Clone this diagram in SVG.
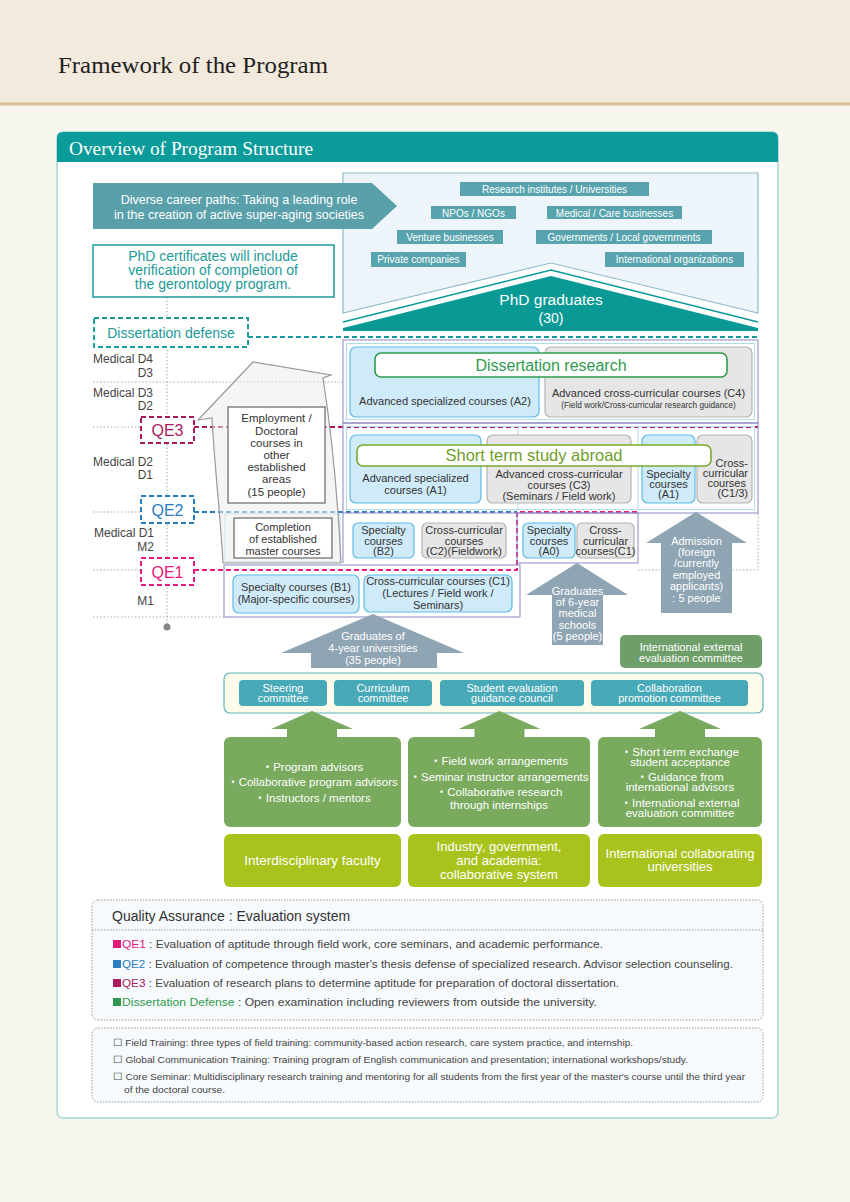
<svg xmlns="http://www.w3.org/2000/svg" width="850" height="1202" viewBox="0 0 850 1202">
<defs>
<style>
.s{font-family:"Liberation Sans",Arial,sans-serif}
.serif{font-family:"Liberation Serif","Times New Roman",serif}
.c{text-anchor:middle}
.dk{fill:#333;font-size:11px}
.wt{fill:#fff}
.blue{fill:#cfeaf8;stroke:#5dbbe5;stroke-width:1.2}
.gray{fill:#e6e6e6;stroke:#b3b3b3;stroke-width:1.2}
.purp{fill:none;stroke:#8b87c6;stroke-width:1}
.ltb{fill:none;stroke:#b4dcef;stroke-width:1}
.dot{fill:none;stroke:#aaa;stroke-width:1;stroke-dasharray:1.5 2}
.garrow{fill:#8fa5b3}
.grn{fill:#79aa5d}
.lime{fill:#a9c31c}
.cmt{fill:#48a9b8}
.tag{fill:#58a4ae}
.qa{fill:#444;font-size:11px}
.note{fill:#444;font-size:9.5px}
</style>
</defs>
<!-- background -->
<rect x="0" y="0" width="850" height="1202" fill="#f6f5ee"/>
<rect x="0" y="0" width="850" height="104" fill="#f2eadc"/>
<rect x="0" y="102.5" width="850" height="3" fill="#d8bf98"/>
<text x="58" y="73" class="serif" font-size="23" fill="#222" textLength="270" lengthAdjust="spacingAndGlyphs">Framework of the Program</text>

<!-- panel -->
<rect x="57" y="132" width="721" height="986" rx="6" fill="#fff" stroke="#a5d8d3" stroke-width="1.5"/>
<path d="M57,162 V138 Q57,132 63,132 H772 Q778,132 778,138 V162 Z" fill="#0b9b9a"/>
<text x="69" y="155" class="serif wt" font-size="18" textLength="244" lengthAdjust="spacingAndGlyphs">Overview of Program Structure</text>

<!-- career area -->
<g id="career-box">
<path d="M343,173 H758 V313 L551,263 L343,313 Z" fill="#eef5fa" stroke="#8dbccb" stroke-width="1.2"/>
<rect class="tag" x="460" y="182" width="189" height="14"/>
<text x="554.5" y="193" class="s c wt" font-size="10">Research institutes / Universities</text>
<rect class="tag" x="431" y="206" width="85" height="13"/>
<text x="473.5" y="216.5" class="s c wt" font-size="10">NPOs / NGOs</text>
<rect class="tag" x="547" y="206" width="135" height="13"/>
<text x="614.5" y="216.5" class="s c wt" font-size="10">Medical / Care businesses</text>
<rect class="tag" x="397" y="230" width="106" height="14"/>
<text x="450" y="240.5" class="s c wt" font-size="10">Venture businesses</text>
<rect class="tag" x="536" y="230" width="176" height="14"/>
<text x="624" y="240.5" class="s c wt" font-size="10">Governments / Local governments</text>
<rect class="tag" x="371" y="252" width="95" height="15"/>
<text x="418.5" y="263" class="s c wt" font-size="10">Private companies</text>
<rect class="tag" x="605" y="252" width="139" height="15"/>
<text x="674.5" y="263" class="s c wt" font-size="10">International organizations</text>
</g>
<g id="phd-graduates">
<polyline points="343,322 551,270 758,322" fill="none" stroke="#0a9a96" stroke-width="1.5"/>
<polygon points="343,331 343,328 551,276 758,328 758,331" fill="#0a9a96"/>
<text x="551" y="305" class="s c wt" font-size="15.5">PhD graduates</text>
<text x="551" y="323" class="s c wt" font-size="14">(30)</text>
</g>
<g id="career-arrow">
<polygon points="93,183 372,183 397,206 372,229 93,229" fill="#5aa0aa"/>
<text x="239" y="204" class="s c wt" font-size="12.5">Diverse career paths: Taking a leading role</text>
<text x="239" y="219" class="s c wt" font-size="12.5">in the creation of active super-aging societies</text>
</g>

<!-- connectors / guide lines -->
<g id="connectors">
<line x1="167" y1="297" x2="167" y2="627" class="dot"/>
<line x1="93" y1="382" x2="343" y2="382" class="dot"/>
<line x1="93" y1="427" x2="141" y2="427" class="dot"/>
<line x1="93" y1="512" x2="141" y2="512" class="dot"/>
<line x1="93" y1="570" x2="141" y2="570" class="dot"/>
<line x1="93" y1="617" x2="224" y2="617" class="dot"/>
<circle cx="167" cy="627" r="3.5" fill="#888"/>
<path d="M248,337 H758" fill="none" stroke="#1a9a98" stroke-width="2" stroke-dasharray="5 3"/>
<path d="M194,427 H758" fill="none" stroke="#a8195e" stroke-width="2" stroke-dasharray="5 3"/>
<path d="M194,512 H517" fill="none" stroke="#2a7dc1" stroke-width="2" stroke-dasharray="5 3"/>
<path d="M194,570 H517 V512 H638" fill="none" stroke="#e5197e" stroke-width="2" stroke-dasharray="5 3"/>
<path d="M638,570 H758 V513" class="dot"/>
</g>

<!-- frames -->
<g id="frames">
<rect x="343" y="340" width="415" height="83" class="purp"/>
<rect x="346.5" y="343.5" width="408" height="76" class="ltb"/>
<rect x="343" y="423" width="415" height="90" class="purp"/>
<rect x="346.5" y="426.5" width="408" height="83" class="ltb"/>
<line x1="518" y1="426" x2="518" y2="510" class="ltb"/>
<line x1="638" y1="426" x2="638" y2="510" class="ltb"/>
<rect x="517" y="513" width="121" height="50" class="purp"/>
<line x1="343" y1="513" x2="343" y2="563" stroke="#8b87c6"/>
<rect x="224" y="565" width="296" height="52" class="purp"/>
<rect x="225" y="514" width="115" height="48" class="ltb"/>
</g>

<!-- curved arrow -->
<g id="transfer-arrow">
<path d="M223,563 C220,510 214,460 212,418 L198,420 L253,362 L331,375 L323,378 C331,430 338,500 341,563 Z" fill="#ececec" fill-opacity="0.55" stroke="#999" stroke-width="1.2"/>
</g>

<!-- left labels -->
<g id="year-labels" class="s" font-size="12" fill="#444" text-anchor="end">
<text x="153" y="363">Medical D4</text>
<text x="153" y="377">D3</text>
<text x="153" y="397">Medical D3</text>
<text x="153" y="410">D2</text>
<text x="153" y="466">Medical D2</text>
<text x="153" y="479">D1</text>
<text x="154" y="537">Medical D1</text>
<text x="154" y="551">M2</text>
<text x="154" y="605">M1</text>
</g>

<g id="phd-certificates">
<rect x="93" y="245" width="241" height="52" fill="#fff" stroke="#1b9a98" stroke-width="1.5"/>
<text x="213" y="261" class="s c" font-size="14" fill="#1b9a98">PhD certificates will include</text>
<text x="213" y="275" class="s c" font-size="14" fill="#1b9a98">verification of completion of</text>
<text x="213" y="289" class="s c" font-size="14" fill="#1b9a98">the gerontology program.</text>
</g>
<g id="dissertation-defense">
<rect x="94" y="318" width="154" height="29" fill="#fff" stroke="#1a9a98" stroke-width="2" stroke-dasharray="5 3"/>
<text x="171" y="338" class="s c" font-size="14" fill="#1b9a98">Dissertation defense</text>
</g>
<g id="qe3">
<rect x="141" y="417" width="53" height="26" fill="#fff" stroke="#a8195e" stroke-width="2" stroke-dasharray="5 3"/>
<text x="167.5" y="436" class="s c" font-size="16" fill="#a8195e">QE3</text>
</g>
<g id="qe2">
<rect x="141" y="496" width="53" height="27" fill="#fff" stroke="#2a7dc1" stroke-width="2" stroke-dasharray="5 3"/>
<text x="167.5" y="515.5" class="s c" font-size="16" fill="#2a7dc1">QE2</text>
</g>
<g id="qe1">
<rect x="141" y="558" width="53" height="27" fill="#fff" stroke="#e5197e" stroke-width="2" stroke-dasharray="5 3"/>
<text x="167.5" y="577.5" class="s c" font-size="16" fill="#e5197e">QE1</text>
</g>

<g id="employment">
<rect x="228" y="407" width="97" height="96" fill="#fff" stroke="#666" stroke-width="1.2"/>
<g class="s c" font-size="11.5" fill="#333">
<text x="276.5" y="422">Employment /</text>
<text x="276.5" y="435">Doctoral</text>
<text x="276.5" y="447">courses in</text>
<text x="276.5" y="459">other</text>
<text x="276.5" y="471">established</text>
<text x="276.5" y="483">areas</text>
<text x="276.5" y="496">(15 people)</text>
</g>
</g>
<g id="completion">
<rect x="234" y="518" width="98" height="40" fill="#fff" stroke="#666" stroke-width="1.2"/>
<g class="s c" font-size="11" fill="#333">
<text x="283" y="530.5">Completion</text>
<text x="283" y="542.5">of established</text>
<text x="283" y="554.5">master courses</text>
</g>
</g>

<!-- D3-D4 -->
<g id="a2">
<rect class="blue" x="350" y="347" width="189" height="70" rx="6"/>
<text x="445" y="405" class="s c dk">Advanced specialized courses (A2)</text>
</g>
<g id="c4">
<rect class="gray" x="545" y="347" width="207" height="70" rx="6"/>
<text x="648.5" y="397" class="s c dk" font-size="10.5">Advanced cross-curricular courses (C4)</text>
<text x="648.5" y="408" class="s c" font-size="8.3" fill="#333">(Field work/Cross-curricular research guidance)</text>
</g>
<g id="dissertation-research">
<rect x="375" y="353" width="352" height="24" rx="6" fill="#fff" stroke="#2f9a4e" stroke-width="1.6"/>
<text x="551" y="371" class="s c" font-size="16" fill="#2f9a4e">Dissertation research</text>
</g>

<!-- D1-D2 -->
<g id="a1">
<rect class="blue" x="350" y="435" width="131" height="68" rx="6"/>
<text x="415.5" y="482" class="s c dk">Advanced specialized</text>
<text x="415.5" y="494" class="s c dk">courses (A1)</text>
</g>
<g id="c3">
<rect class="gray" x="487" y="435" width="144" height="68" rx="6"/>
<text x="559" y="478" class="s c dk">Advanced cross-curricular</text>
<text x="559" y="489" class="s c dk">courses (C3)</text>
<text x="559" y="500" class="s c dk">(Seminars / Field work)</text>
</g>
<g id="a1-specialty">
<rect class="blue" x="642" y="435" width="53" height="68" rx="6"/>
<text x="668.5" y="478" class="s c dk">Specialty</text>
<text x="668.5" y="488" class="s c dk">courses</text>
<text x="668.5" y="498" class="s c dk">(A1)</text>
</g>
<g id="c13">
<rect class="gray" x="697" y="435" width="55" height="68" rx="6"/>
<g class="s dk" text-anchor="end">
<text x="748" y="467">Cross-</text>
<text x="748" y="477">curricular</text>
<text x="746" y="487">courses</text>
<text x="748" y="497">(C1/3)</text>
</g>
</g>
<g id="short-term">
<rect x="357" y="445" width="354" height="21" rx="6" fill="#fff" stroke="#7aaa2e" stroke-width="1.6"/>
<text x="534" y="461" class="s c" font-size="16.5" fill="#6f9e2a">Short term study abroad</text>
</g>

<!-- M2 -->
<g id="b2">
<rect class="blue" x="353" y="523" width="61" height="35" rx="5"/>
<text x="383.5" y="534" class="s c dk">Specialty</text>
<text x="383.5" y="544.5" class="s c dk">courses</text>
<text x="383.5" y="555" class="s c dk">(B2)</text>
</g>
<g id="c2">
<rect class="gray" x="422" y="523" width="84" height="35" rx="5"/>
<text x="464" y="534" class="s c dk">Cross-curricular</text>
<text x="464" y="544.5" class="s c dk">courses</text>
<text x="464" y="555" class="s c dk">(C2)(Fieldwork)</text>
</g>
<g id="a0">
<rect class="blue" x="523" y="523" width="52" height="35" rx="5"/>
<text x="549" y="534" class="s c dk">Specialty</text>
<text x="549" y="544.5" class="s c dk">courses</text>
<text x="549" y="555" class="s c dk">(A0)</text>
</g>
<g id="c1-m2">
<rect class="gray" x="577" y="523" width="57" height="35" rx="5"/>
<text x="605.5" y="534" class="s c dk">Cross-</text>
<text x="605.5" y="544.5" class="s c dk">curricular</text>
<text x="605.5" y="555" class="s c dk">courses(C1)</text>
</g>

<!-- M1 -->
<g id="b1">
<rect class="blue" x="233" y="575" width="126" height="38" rx="6"/>
<text x="296" y="591" class="s c dk">Specialty courses (B1)</text>
<text x="296" y="603" class="s c dk">(Major-specific courses)</text>
</g>
<g id="c1-m1">
<rect class="blue" x="364" y="575" width="148" height="37" rx="6"/>
<text x="438" y="585" class="s c dk">Cross-curricular courses (C1)</text>
<text x="438" y="597" class="s c dk">(Lectures / Field work /</text>
<text x="438" y="609" class="s c dk">Seminars)</text>
</g>

<!-- entry arrows -->
<g id="grad-4year">
<polygon class="garrow" points="373,614 464,653 437,653 437,668 311,668 311,653 281,653"/>
<text x="373" y="640" class="s c wt" font-size="11">Graduates of</text>
<text x="373" y="652" class="s c wt" font-size="11">4-year universities</text>
<text x="373" y="664" class="s c wt" font-size="11">(35 people)</text>
</g>
<g id="grad-6year">
<polygon class="garrow" points="577,563 628,595 603,595 603,645 552,645 552,595 526,595"/>
<text x="577.5" y="595" class="s c wt" font-size="11">Graduates</text>
<text x="577.5" y="606" class="s c wt" font-size="11">of 6-year</text>
<text x="577.5" y="617" class="s c wt" font-size="11">medical</text>
<text x="577.5" y="629" class="s c wt" font-size="11">schools</text>
<text x="577.5" y="640" class="s c wt" font-size="11">(5 people)</text>
</g>
<g id="admission">
<polygon class="garrow" points="696,512 747,543 732,543 732,613 661,613 661,543 646,543"/>
<text x="696.5" y="545" class="s c wt" font-size="11">Admission</text>
<text x="696.5" y="556" class="s c wt" font-size="11">(foreign</text>
<text x="696.5" y="567" class="s c wt" font-size="11">/currently</text>
<text x="696.5" y="579" class="s c wt" font-size="11">employed</text>
<text x="696.5" y="590" class="s c wt" font-size="11">applicants)</text>
<text x="696.5" y="602" class="s c wt" font-size="11">: 5 people</text>
</g>
<g id="intl-eval">
<rect x="620" y="635" width="142" height="33" rx="5" fill="#6e9e6a"/>
<text x="691" y="651" class="s c wt" font-size="11">International external</text>
<text x="691" y="662" class="s c wt" font-size="11">evaluation committee</text>
</g>

<!-- committees -->
<g id="committees">
<rect x="224" y="673" width="539" height="40" rx="6" fill="#fdfbea" stroke="#5fb3bb" stroke-width="1.2"/>
<rect class="cmt" x="239" y="680" width="88" height="26" rx="4"/>
<text x="283" y="691.5" class="s c wt" font-size="11">Steering</text>
<text x="283" y="702" class="s c wt" font-size="11">committee</text>
<rect class="cmt" x="334" y="680" width="98" height="26" rx="4"/>
<text x="383" y="691.5" class="s c wt" font-size="11">Curriculum</text>
<text x="383" y="702" class="s c wt" font-size="11">committee</text>
<rect class="cmt" x="440" y="680" width="144" height="26" rx="4"/>
<text x="512" y="691.5" class="s c wt" font-size="11">Student evaluation</text>
<text x="512" y="702" class="s c wt" font-size="11">guidance council</text>
<rect class="cmt" x="591" y="680" width="157" height="26" rx="4"/>
<text x="669.5" y="691.5" class="s c wt" font-size="11">Collaboration</text>
<text x="669.5" y="702" class="s c wt" font-size="11">promotion committee</text>
</g>

<!-- support arrows -->
<g id="support-arrows" fill="#79aa5d">
<polygon points="312,711 353,729 337,729 337,738 287,738 287,729 271,729"/>
<polygon points="499.5,711 540.5,729 524.5,729 524.5,738 474.5,738 474.5,729 458.5,729"/>
<polygon points="680,711 721,729 705,729 705,738 655,738 655,729 639,729"/>
</g>

<g id="faculty">
<rect class="grn" x="224" y="737" width="177" height="90" rx="6"/>
<g class="s c wt" font-size="11.5" style="font-family:'Liberation Sans','Noto Sans CJK JP',sans-serif">
<text x="312.5" y="771">・Program advisors</text>
<text x="312.5" y="786">・Collaborative program advisors</text>
<text x="312.5" y="802">・Instructors / mentors</text>
</g>
<rect class="lime" x="224" y="834" width="177" height="53" rx="6"/>
<text x="312.5" y="865" class="s c wt" font-size="13.5">Interdisciplinary faculty</text>
</g>
<g id="industry">
<rect class="grn" x="408" y="737" width="182" height="90" rx="6"/>
<g class="s c wt" font-size="11.5" style="font-family:'Liberation Sans','Noto Sans CJK JP',sans-serif">
<text x="499" y="765">・Field work arrangements</text>
<text x="499" y="781">・Seminar instructor arrangements</text>
<text x="499" y="796">・Collaborative research</text>
<text x="499" y="809">through internships</text>
</g>
<rect class="lime" x="408" y="834" width="182" height="53" rx="6"/>
<text x="499" y="851" class="s c wt" font-size="13">Industry, government,</text>
<text x="499" y="865" class="s c wt" font-size="13">and academia:</text>
<text x="499" y="879" class="s c wt" font-size="13">collaborative system</text>
</g>
<g id="international">
<rect class="grn" x="598" y="737" width="164" height="90" rx="6"/>
<g class="s c wt" font-size="11.5" style="font-family:'Liberation Sans','Noto Sans CJK JP',sans-serif">
<text x="680" y="756">・Short term exchange</text>
<text x="680" y="766">student acceptance</text>
<text x="680" y="781">・Guidance from</text>
<text x="680" y="791">international advisors</text>
<text x="680" y="807">・International external</text>
<text x="680" y="817">evaluation committee</text>
</g>
<rect class="lime" x="598" y="834" width="164" height="53" rx="6"/>
<text x="680" y="858" class="s c wt" font-size="13">International collaborating</text>
<text x="680" y="871" class="s c wt" font-size="13">universities</text>
</g>

<!-- quality assurance -->
<g id="quality-assurance">
<rect x="92" y="900" width="671" height="120" rx="6" fill="#f7fafc" stroke="#999" stroke-width="1" stroke-dasharray="1.5 1.5"/>
<line x1="92" y1="930" x2="763" y2="930" stroke="#999" stroke-dasharray="1.5 1.5"/>
<text x="112" y="921" class="s" font-size="14" fill="#333">Quality Assurance : Evaluation system</text>
<rect x="113" y="940" width="8" height="8" fill="#e5197e"/>
<text x="122" y="948" class="s qa" textLength="481" lengthAdjust="spacingAndGlyphs"><tspan fill="#e5197e">QE1</tspan> : Evaluation of aptitude through field work, core seminars, and academic performance.</text>
<rect x="113" y="960" width="8" height="8" fill="#2a7dc1"/>
<text x="122" y="968" class="s qa" textLength="611" lengthAdjust="spacingAndGlyphs"><tspan fill="#2a7dc1">QE2</tspan> : Evaluation of competence through master's thesis defense of specialized research. Advisor selection counseling.</text>
<rect x="113" y="979" width="8" height="8" fill="#a8195e"/>
<text x="122" y="987" class="s qa" textLength="497" lengthAdjust="spacingAndGlyphs"><tspan fill="#a8195e">QE3</tspan> : Evaluation of research plans to determine aptitude for preparation of doctoral dissertation.</text>
<rect x="113" y="998" width="8" height="8" fill="#2f9a4e"/>
<text x="122" y="1006" class="s qa" textLength="475" lengthAdjust="spacingAndGlyphs"><tspan fill="#2f9a4e">Dissertation Defense</tspan> : Open examination including reviewers from outside the university.</text>
</g>

<g id="notes">
<rect x="92" y="1028" width="671" height="74" rx="6" fill="#f7fafc" stroke="#999" stroke-width="1" stroke-dasharray="1.5 1.5"/>
<text x="113" y="1046" class="s note" textLength="520" lengthAdjust="spacingAndGlyphs">☐ Field Training: three types of field training: community-based action research, care system practice, and internship.</text>
<text x="113" y="1063" class="s note" textLength="575" lengthAdjust="spacingAndGlyphs">☐ Global Communication Training: Training program of English communication and presentation; international workshops/study.</text>
<text x="113" y="1080" class="s note" textLength="632" lengthAdjust="spacingAndGlyphs">☐ Core Seminar: Multidisciplinary research training and mentoring for all students from the first year of the master's course until the third year</text>
<text x="124" y="1093" class="s note" textLength="101" lengthAdjust="spacingAndGlyphs">of the doctoral course.</text>
</g>
</svg>
